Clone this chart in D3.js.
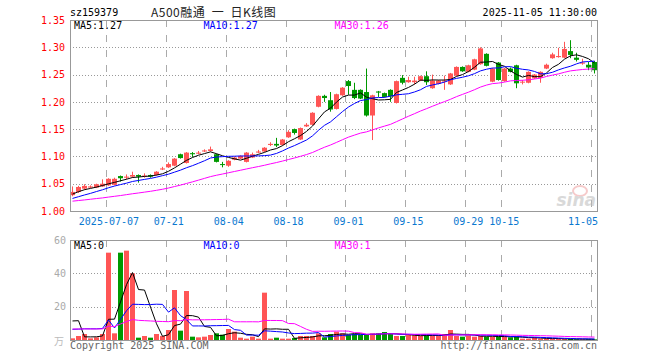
<!DOCTYPE html>
<html><head><meta charset="utf-8">
<script src="https://cdn.jsdelivr.net/npm/d3@7"></script>
<style>body{margin:0;background:#fff}svg text{font-family:"DejaVu Sans Mono",monospace;font-size:10px}</style>
</head><body><svg id="c" width="660" height="360"></svg>
<script>
const dates = [
"2025-06-27","2025-06-30",
"2025-07-01","2025-07-02","2025-07-03","2025-07-04","2025-07-07","2025-07-08","2025-07-09","2025-07-10","2025-07-11","2025-07-14","2025-07-15","2025-07-16","2025-07-17","2025-07-18","2025-07-21","2025-07-22","2025-07-23","2025-07-24","2025-07-25","2025-07-28","2025-07-29","2025-07-30","2025-07-31",
"2025-08-01","2025-08-04","2025-08-05","2025-08-06","2025-08-07","2025-08-08","2025-08-11","2025-08-12","2025-08-13","2025-08-14","2025-08-15","2025-08-18","2025-08-19","2025-08-20","2025-08-21","2025-08-22","2025-08-25","2025-08-26","2025-08-27","2025-08-28","2025-08-29",
"2025-09-01","2025-09-02","2025-09-03","2025-09-04","2025-09-05","2025-09-08","2025-09-09","2025-09-10","2025-09-11","2025-09-12","2025-09-15","2025-09-16","2025-09-17","2025-09-18","2025-09-19","2025-09-22","2025-09-23","2025-09-24","2025-09-25","2025-09-26","2025-09-29","2025-09-30",
"2025-10-09","2025-10-10","2025-10-13","2025-10-14","2025-10-15","2025-10-16","2025-10-17","2025-10-20","2025-10-21","2025-10-22","2025-10-23","2025-10-24","2025-10-27","2025-10-28","2025-10-29","2025-10-30","2025-10-31",
"2025-11-03","2025-11-04","2025-11-05"];

const open = [1.029,1.035,1.041,1.043,1.043,1.045,1.047,1.048,1.064,1.061,1.063,1.066,1.063,1.066,1.066,1.076,1.080,1.083,1.104,1.088,1.106,1.105,1.109,1.110,1.104,1.086,1.083,1.094,1.096,1.090,1.098,1.107,
1.109,1.121,1.123,1.121,1.135,1.150,1.131,1.155,1.158,1.191,1.211,1.203,1.187,1.212,1.238,1.222,1.222,1.218,1.175,1.219,1.216,1.222,1.198,1.244,1.236,1.236,1.239,1.247,1.225,1.233,1.238,1.232,
1.248,1.264,1.255,1.259,1.269,1.288,1.237,1.272,1.238,1.261,1.267,1.236,1.235,1.243,1.244,1.261,1.280,1.282,1.281,1.293,1.281,1.270,1.268,1.273];
const close = [1.035,1.044,1.046,1.045,1.049,1.050,1.059,1.059,1.060,1.063,1.066,1.063,1.065,1.063,1.072,1.078,1.086,1.096,1.097,1.107,1.104,1.107,1.111,1.113,1.090,1.085,1.092,1.098,1.101,1.107,1.104,1.109,
1.116,1.123,1.120,1.131,1.145,1.143,1.152,1.158,1.180,1.211,1.207,1.186,1.214,1.226,1.229,1.207,1.206,1.175,1.212,1.217,1.209,1.210,1.238,1.235,1.240,1.239,1.247,1.236,1.239,1.239,1.239,1.252,
1.264,1.256,1.267,1.278,1.298,1.266,1.261,1.240,1.261,1.255,1.234,1.237,1.255,1.250,1.255,1.268,1.287,1.284,1.297,1.286,1.277,1.272,1.263,1.258];
const high = [1.045,1.046,1.049,1.047,1.050,1.058,1.060,1.061,1.065,1.067,1.072,1.067,1.069,1.067,1.073,1.081,1.089,1.097,1.105,1.108,1.108,1.110,1.113,1.118,1.105,1.090,1.093,1.100,1.102,1.108,1.107,1.112,
1.117,1.126,1.134,1.132,1.148,1.151,1.153,1.161,1.181,1.212,1.213,1.218,1.215,1.227,1.240,1.235,1.223,1.261,1.213,1.220,1.217,1.223,1.239,1.249,1.246,1.246,1.248,1.256,1.250,1.240,1.248,1.253,
1.265,1.265,1.268,1.279,1.300,1.289,1.262,1.273,1.262,1.263,1.268,1.240,1.256,1.251,1.256,1.270,1.290,1.299,1.310,1.313,1.290,1.279,1.273,1.275];
const low = [1.027,1.033,1.039,1.042,1.042,1.044,1.046,1.047,1.054,1.058,1.061,1.052,1.061,1.061,1.065,1.075,1.079,1.082,1.096,1.087,1.099,1.104,1.108,1.109,1.089,1.080,1.081,1.093,1.095,1.089,1.097,1.106,
1.108,1.119,1.117,1.120,1.134,1.140,1.130,1.154,1.157,1.190,1.200,1.182,1.186,1.211,1.213,1.205,1.205,1.173,1.130,1.209,1.208,1.200,1.197,1.232,1.235,1.232,1.238,1.231,1.224,1.232,1.222,1.231,
1.247,1.255,1.254,1.258,1.268,1.265,1.236,1.239,1.237,1.254,1.225,1.232,1.234,1.242,1.235,1.260,1.279,1.281,1.280,1.280,1.274,1.268,1.258,1.252];
// volume, unit: 万
const volume = [1.0,2.4,3.6,1.0,1.6,3.6,52.4,4.0,52.4,53.6,40.0,1.4,2.4,1.4,3.6,2.4,6.0,30.0,5.6,29.4,2.0,1.6,2.0,3.0,4.0,3.2,6.6,5.0,1.4,0.8,2.0,0.8,
28.4,0.8,1.4,0.8,0.8,1.2,2.4,2.4,2.4,4.0,1.6,3.6,5.0,4.0,3.0,3.6,3.0,3.0,4.0,4.0,4.8,3.6,2.4,2.4,3.0,2.8,2.4,2.8,2.8,2.8,3.6,6.0,
2.4,2.0,2.8,2.0,2.4,2.0,2.0,2.0,2.0,1.6,2.0,0.8,0.8,1.6,0.8,0.8,0.6,0.6,0.6,0.6,0.4,0.4,0.4,0.4];
// sessions before the visible window (needed for the moving averages)
const priorCloses = [1.010,1.012,1.008,1.011,1.015,1.013,1.016,1.018,1.014,1.017,1.020,1.019,1.016,1.018,1.021,1.017,1.015,1.019,1.016,1.016,
1.012,1.014,1.016,1.015,1.018,1.022,1.028,1.033,1.037];
const priorVolumes = [2.5,1.8,2.2,1.5,2.0,3.0,12,6,9,5,15,8,7,10,6,9,11,7,8,8,1.2,1.5,1.0,1.8,1.4,1.6,52,1.2,1.3];

const priceTicks = [1.00,1.05,1.10,1.15,1.20,1.25,1.30,1.35];
const volTicks = [20,40,60];
const dateTicks = ["2025-07-07","2025-07-21","2025-08-04","2025-08-18","2025-09-01","2025-09-15","2025-09-29","2025-10-15","2025-11-05"];
const dateTickLabels = ["2025-07-07","07-21","08-04","08-18","09-01","09-15","09-29","10-15","11-05"];
const maPeriods = [5,10,30];
const maColors = ["#000","#0000ff","#ff00ff"];

const svg = d3.select("#c");
const L=70, R=597, T=20, B=211, VT=240, VB=340;
const up="#ff5555", down="#009900";

const x = d3.scaleBand().domain(dates).range([L,R]);
const step = x.step();
const y = d3.scaleLinear().domain([1.00,1.35]).range([B,T]);
const yv = d3.scaleLinear().domain([0,60]).range([VB,VT]);
const bx = d => Math.round(x(d) + step/2 - 2.5);
const cx = d => bx(d) + 2.5;

function ma(prior, cur, n){
  const all = prior.concat(cur);
  return cur.map((_,i)=>{const k=prior.length+i; return d3.mean(all.slice(k-n+1,k+1));});
}
const priceMA = maPeriods.map(n=>ma(priorCloses, close, n));
const volMA = maPeriods.map(n=>ma(priorVolumes, volume, n));

// grids
const g = svg.append("g");
[[T,B],[VT,VB]].forEach(([a,b])=>{
  g.selectAll(null).data(dateTicks).join("line")
   .attr("x1",d=>Math.round(x(d))+0.5).attr("x2",d=>Math.round(x(d))+0.5)
   .attr("y1",a).attr("y2",b).attr("stroke","#aaa").attr("stroke-dasharray","7,8");
});
g.selectAll(null).data(priceTicks.filter(v=>v>1.0&&v<1.35)).join("line")
 .attr("x1",L).attr("x2",R).attr("y1",d=>Math.round(y(d))+0.5).attr("y2",d=>Math.round(y(d))+0.5)
 .attr("stroke","#999").attr("stroke-dasharray","1,2");
g.selectAll(null).data(volTicks.filter(v=>v<60)).join("line")
 .attr("x1",L).attr("x2",R).attr("y1",d=>Math.round(yv(d))+0.5).attr("y2",d=>Math.round(yv(d))+0.5)
 .attr("stroke","#999").attr("stroke-dasharray","1,2");

// watermark
const wm = svg.append("g").attr("opacity",0.55);
wm.append("ellipse").attr("cx",580).attr("cy",191).attr("rx",7).attr("ry",5).attr("fill","none").attr("stroke","#f0a0a0").attr("stroke-width",2);
wm.append("text").attr("x",596).attr("y",206).attr("text-anchor","end")
  .style("font-family","'DejaVu Sans',sans-serif").style("font-size","17px").style("font-style","italic").style("font-weight","bold")
  .attr("fill","#bbb").text("sina");

// candles
const idx = d3.range(dates.length);
const cg = svg.append("g");
cg.selectAll("line.w").data(idx).join("line")
  .attr("x1",i=>cx(dates[i])).attr("x2",i=>cx(dates[i]))
  .attr("y1",i=>y(high[i])).attr("y2",i=>y(low[i]))
  .attr("stroke",i=>close[i]>=open[i]?up:down);
cg.selectAll("rect").data(idx).join("rect")
  .attr("x",i=>bx(dates[i])).attr("width",5)
  .attr("y",i=>y(Math.max(open[i],close[i])))
  .attr("height",i=>Math.max(1,y(Math.min(open[i],close[i]))-y(Math.max(open[i],close[i]))))
  .attr("fill",i=>close[i]>=open[i]?up:down);

// volume bars
svg.append("g").selectAll("rect").data(idx).join("rect")
  .attr("x",i=>bx(dates[i])).attr("width",5)
  .attr("y",i=>yv(volume[i])).attr("height",i=>VB-yv(volume[i]))
  .attr("fill",i=>close[i]>=open[i]?up:down);

// MA lines
maPeriods.forEach((n,k)=>{
  svg.append("path").datum(idx).attr("fill","none").attr("stroke",maColors[k]).attr("stroke-width",1)
    .attr("d",d3.line().x(i=>cx(dates[i])).y(i=>y(priceMA[k][i])));
  svg.append("path").datum(idx).attr("fill","none").attr("stroke",maColors[k]).attr("stroke-width",1)
    .attr("d",d3.line().x(i=>cx(dates[i])).y(i=>yv(volMA[k][i])));
});

// borders
svg.append("rect").attr("x",L+0.5).attr("y",T+0.5).attr("width",R-L).attr("height",B-T).attr("fill","none").attr("stroke","#999");
svg.append("rect").attr("x",L+0.5).attr("y",VT+0.5).attr("width",R-L).attr("height",VB-VT).attr("fill","none").attr("stroke","#999");

// axes
const ya = svg.append("g").attr("transform",`translate(${L},0)`)
  .call(d3.axisLeft(y).tickValues(priceTicks).tickSize(0).tickPadding(5).tickFormat(d3.format(".2f")));
ya.select(".domain").remove();
ya.selectAll("text").attr("fill","#ff0000").style("font-family","'DejaVu Sans Mono',monospace").style("font-size","10px");

const va = svg.append("g").attr("transform",`translate(${L},0)`)
  .call(d3.axisLeft(yv).tickValues(volTicks).tickSize(0).tickPadding(4));
va.select(".domain").remove();
va.selectAll("text").attr("fill","#aaa").style("font-family","'DejaVu Sans Mono',monospace").style("font-size","10px");
svg.append("text").attr("x",64).attr("y",345).attr("text-anchor","end").attr("fill","#bbb")
  .style("font-family","'Noto Sans CJK SC',sans-serif").style("font-size","10px").text("万");

const xa = svg.append("g").attr("transform",`translate(0,${B})`)
  .call(d3.axisBottom(x).tickValues(dateTicks).tickSize(0).tickPadding(7)
    .tickFormat(d=>dateTickLabels[dateTicks.indexOf(d)]));
xa.select(".domain").remove();
xa.selectAll("text").attr("fill","#0a78d0").style("font-family","'DejaVu Sans Mono',monospace").style("font-size","10px");
xa.selectAll(".tick").filter((d,i,n)=>i===n.length-1).select("text")
  .attr("text-anchor","end").attr("x",R-(x(dateTicks[dateTicks.length-1])+step/2)+1);

// header texts
svg.append("text").attr("x",70).attr("y",16).attr("fill","#000").text("sz159379");
svg.append("text").attr("x",151).attr("y",17).attr("fill","#222").style("white-space","pre")
  .style("font-family","'Noto Sans CJK SC',sans-serif").style("font-size","12px").style("letter-spacing","0.5px")
  .text("A500融通  一  日K线图");
svg.append("text").attr("x",R).attr("y",16).attr("text-anchor","end").attr("fill","#000").text("2025-11-05 11:30:00");

// legends
const fmt2 = d3.format(".2f");
const legX = [74,203.5,334.5];
maPeriods.forEach((n,k)=>{
  const last = priceMA[k][priceMA[k].length-1];
  svg.append("text").attr("x",legX[k]).attr("y",29).attr("fill",maColors[k]).text(`MA${n}:${fmt2(last)}`);
  const lv = volMA[k][volMA[k].length-1];
  svg.append("text").attr("x",legX[k]).attr("y",249).attr("fill",maColors[k]).text(`MA${n}:${Math.floor(lv)}`);
});

// footer
svg.append("text").attr("x",70).attr("y",349).attr("fill","#666").text("Copyright 2025 SINA.COM");
svg.append("text").attr("x",R).attr("y",349).attr("text-anchor","end").attr("fill","#666").text("http://finance.sina.com.cn");
</script></body></html>
